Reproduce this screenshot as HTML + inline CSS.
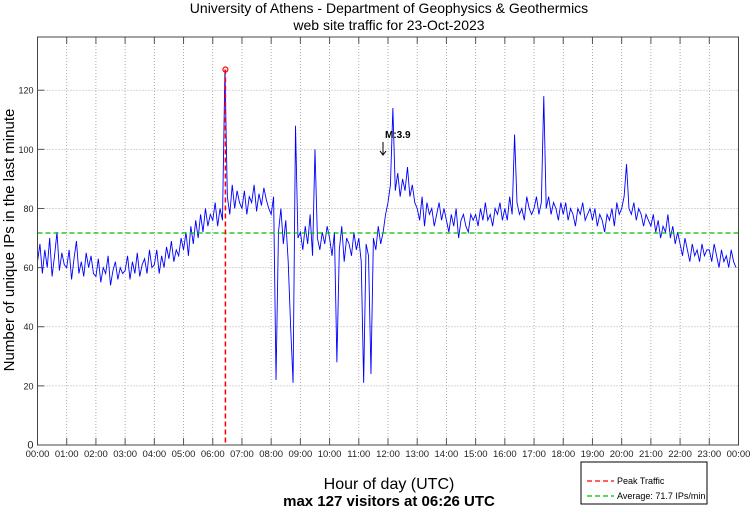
<!DOCTYPE html>
<html><head><meta charset="utf-8"><style>
html,body{margin:0;padding:0;background:#fff;}
svg{display:block;font-family:"Liberation Sans",sans-serif;}
</style></head><body>
<svg id="chart" width="750" height="511" viewBox="0 0 750 511" xmlns="http://www.w3.org/2000/svg">
<rect x="0" y="0" width="750" height="511" fill="#fff"/>
<text x="389" y="13" font-size="14" text-anchor="middle">University of Athens - Department of Geophysics &amp; Geothermics</text>
<text x="389" y="30" font-size="14" text-anchor="middle">web site traffic for 23-Oct-2023</text>
<g id="grid"></g>
<g id="series"></g>
<g id="axes"></g>
<text transform="translate(14,240) rotate(-90)" font-size="15" text-anchor="middle">Number of unique IPs in the last minute</text>
<text x="389" y="489" font-size="16" text-anchor="middle">Hour of day (UTC)</text>
<text x="389" y="506" font-size="15" font-weight="bold" text-anchor="middle">max 127 visitors at 06:26 UTC</text>
<text x="385" y="138" font-size="10" font-weight="bold">M:3.9</text>
<g stroke="#000" stroke-width="1" fill="none">
<line x1="383" y1="142" x2="383" y2="155"/>
<polyline points="380,151 383,155 386,151"/>
</g>
<g>
<rect x="581" y="462" width="126" height="42" fill="#fff" stroke="#000" stroke-width="1"/>
<line x1="587" y1="481" x2="614" y2="481" stroke="#f00" stroke-width="1.2" stroke-dasharray="5,3"/>
<text x="617" y="484" font-size="9">Peak Traffic</text>
<line x1="587" y1="496" x2="614" y2="496" stroke="#0b0" stroke-width="1.2" stroke-dasharray="5,3"/>
<text x="617" y="499" font-size="9">Average: 71.7 IPs/min</text>
</g>
</svg>
<script>
const hourLabels=["00:00","01:00","02:00","03:00","04:00","05:00","06:00","07:00","08:00","09:00","10:00","11:00","12:00","13:00","14:00","15:00","16:00","17:00","18:00","19:00","20:00","21:00","22:00","23:00","00:00"];
const yTicks=[0,20,40,60,80,100,120];
const traffic=[
62,68,58,66,60,70,57,64,72,59,65,61,
60,66,56,63,69,58,62,57,65,60,64,58,
57,63,55,60,58,64,54,59,62,56,60,58,
59,64,56,62,58,65,57,61,63,58,66,60,
61,66,58,64,60,67,63,69,62,66,64,70,
66,72,64,74,68,76,70,78,72,80,74,78,
76,82,74,80,76,127,84,78,88,80,86,82,
80,86,78,84,82,88,79,85,81,87,83,80,
78,84,22,72,80,68,76,62,40,21,108,70,
72,66,74,68,78,64,100,70,66,72,68,74,
70,64,72,28,66,74,62,70,68,64,72,66,
70,62,21,68,64,24,70,66,74,68,72,78,
82,88,114,86,92,84,90,86,94,84,88,82,
80,76,84,74,82,78,80,74,78,82,76,80,
76,72,78,74,80,70,76,78,74,72,78,76,
78,74,80,76,82,76,78,74,80,78,82,76,
80,76,84,78,105,82,78,80,76,84,80,78,
80,84,78,82,118,80,84,78,82,80,76,82,
78,82,76,80,78,74,80,78,82,76,78,80,
76,80,74,78,76,72,78,76,80,74,82,78,
80,84,95,80,78,82,76,80,78,74,78,76,
74,78,72,76,70,74,72,78,70,74,68,72,
68,64,70,66,62,68,64,66,62,68,64,66,
66,62,68,64,60,66,62,64,60,66,62,60];
const peakValue=[127];
const peakHour=[6+26/60];
const averageValue=[71.7];

const L=37.5,R=738.5,T=37,B=445,YMAX=138;
const xs=h=>L+(h/24)*(R-L);
const ys=v=>B-(v/YMAX)*(B-T);
const NS="http://www.w3.org/2000/svg";
function mk(tag,parent,attrs){const e=document.createElementNS(NS,tag);for(const k in attrs)e.setAttribute(k,attrs[k]);parent.appendChild(e);return e;}
const grid=document.getElementById('grid'),axes=document.getElementById('axes'),ser=document.getElementById('series');

hourLabels.forEach((lab,i)=>{
  const x=xs(i);
  if(i>0&&i<24){const g=mk('line',grid,{x1:x,y1:T,x2:x,y2:B,stroke:'#999','stroke-width':0.8,'stroke-dasharray':'1,2'});
  
  }
  const tk=mk('line',axes,{x1:x,y1:B,x2:x,y2:B-7,stroke:'#555','stroke-width':1});
  
  
  const tk2=mk('line',axes,{x1:x,y1:T,x2:x,y2:T+7,stroke:'#555','stroke-width':1});
  
  
  const t=mk('text',axes,{x:x,y:B+12,'font-size':9.5,'text-anchor':'middle',fill:'#222'});
  
  
  t.textContent=lab;
});
yTicks.forEach(v=>{
  const y=ys(v);
  if(v>0){const g=mk('line',grid,{x1:L,y1:y,x2:R,y2:y,stroke:'#999','stroke-width':0.8,'stroke-dasharray':'1,2'});
  
  }
  const tk=mk('line',axes,{x1:L,y1:y,x2:L+7,y2:y,stroke:'#555'});
  
  
  const t=mk('text',axes,{x:L-4,y:y+3.5,'font-size':v===0?11:9,'text-anchor':'end',fill:'#222'});
  
  
  t.textContent=v;
});
const frame=mk('rect',axes,{x:L,y:T,width:R-L,height:B-T,fill:'none',stroke:'#444','stroke-width':1});



const n=traffic.length;
const pts=traffic.map((v,i)=>xs(i*24/n).toFixed(2)+','+ys(v).toFixed(2)).join(' ');
const pl=mk('polyline',ser,{points:pts,fill:'none',stroke:'#00f','stroke-width':0.9});



const avg=mk('line',ser,{x1:L,y1:ys(averageValue[0]),x2:R,y2:ys(averageValue[0]),stroke:'#0b0','stroke-width':1.2,'stroke-dasharray':'5,3'});


const pk=mk('line',ser,{x1:xs(peakHour[0]),y1:ys(peakValue[0]),x2:xs(peakHour[0]),y2:B,stroke:'#f00','stroke-width':1.5,'stroke-dasharray':'5,3'});


const pc=mk('circle',ser,{cx:xs(peakHour[0]),cy:ys(peakValue[0]),r:2.5,fill:'none',stroke:'#f00','stroke-width':1.2});


</script>
</body></html>
